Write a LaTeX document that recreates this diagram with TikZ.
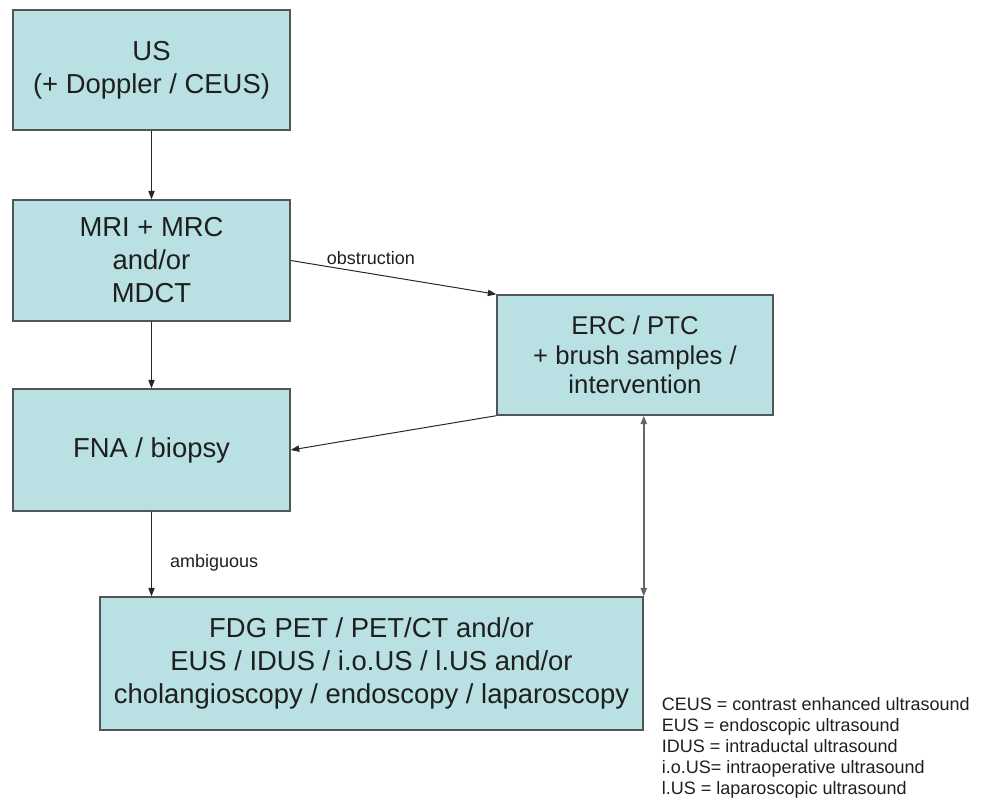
\documentclass[tikz,border=0pt]{standalone}
\usepackage{fontspec}
\setmainfont{Liberation Sans}
\usetikzlibrary{arrows.meta}
\definecolor{boxfill}{RGB}{185,224,226}
\definecolor{boxline}{RGB}{82,86,88}
\colorlet{txt}{black!88}

\begin{document}
\begin{tikzpicture}[
        x=0.025cm, y=-0.025cm,
        stage/.style={draw=boxline, line width=1pt, fill=boxfill, text=txt,
            align=center, inner sep=0pt,
            font=\fontsize{19.5}{23.5}\selectfont},
        flow/.style={-{Triangle[length=6pt,width=4.5pt]}, line width=0.7pt, draw=black!85},
        twoway/.style={{Triangle[length=6pt,width=4.5pt]}-{Triangle[length=6pt,width=4.5pt]},
            line width=1.1pt, draw=black!60},
        lbl/.style={font=\fontsize{12.8}{15}\selectfont, text=txt}
    ]
    \useasboundingbox (0,0) rectangle (984,801);
    \node[stage, minimum width=6.925cm, minimum height=3cm] (us) at (151.5,70)
        {US\\(+ Doppler / CEUS)};
    \node[stage, minimum width=6.925cm, minimum height=3.025cm] (mri) at (151.5,260.5)
        {MRI + MRC\\and/or\\MDCT};
    \node[stage, minimum width=6.925cm, minimum height=3.05cm] (fna) at (151.5,450)
        {FNA / biopsy};
    \node[stage, minimum width=6.9cm, minimum height=3cm,
        font=\fontsize{18.3}{21}\selectfont] (erc) at (635,355)
        {ERC / PTC\\+ brush samples /\\intervention};
    \node[stage, minimum width=13.575cm, minimum height=3.325cm] (fdg) at (371.5,663.5)
        {FDG PET / PET/CT and/or\\EUS / IDUS / i.o.US / l.US and/or\\cholangioscopy / endoscopy / laparoscopy};
    \node[lbl, align=left, anchor=west] (legend) at (657,748)
        {CEUS = contrast enhanced ultrasound\\EUS = endoscopic ultrasound\\IDUS = intraductal ultrasound\\i.o.US= intraoperative ultrasound\\l.US = laparoscopic ultrasound};

    \draw[flow] (us) -- (mri);
    \draw[flow] (mri) -- (fna);
    \draw[flow] (mri.east) -- node[lbl, pos=0.39, above=3pt] (obst) {obstruction} (erc.north west);
    \draw[flow] (erc.south west) -- (fna.east);
    \draw[flow] (fna.south) -- node[lbl, pos=0.61, right=9.5pt] (ambi) {ambiguous} (fna.south |- fdg.north);
    \draw[twoway] (fdg.north east) -- (fdg.north east |- erc.south);
\end{tikzpicture}
\end{document}
